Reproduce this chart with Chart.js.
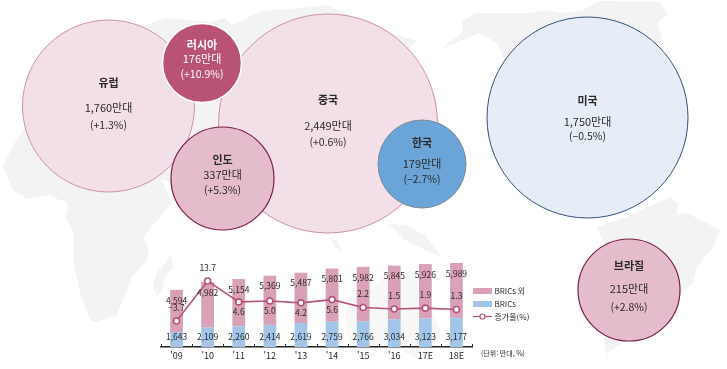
<!DOCTYPE html>
<html lang="ko">
<head>
<meta charset="utf-8">
<title>자동차 판매</title>
<script src="https://cdn.jsdelivr.net/npm/chart.js@4/dist/chart.umd.min.js"></script>
<style>
html,body{margin:0;padding:0;background:#fff;width:727px;height:369px;overflow:hidden}
#map,canvas{position:absolute;left:0;top:0;display:block}
</style>
</head>
<body>
<svg id="map" width="727" height="369" viewBox="0 0 727 369" aria-hidden="true">
<g fill="#f3f3f3">
<path d="M23 130 12 147 3 167 13 190 27 199 50 195 57 199 67 202 68 208 65 217 74 233 73 260 80 293 90 320 95 322 117 315 132 277 147 260 149 250 143 237 172 203 162 180 172 182 200 150 300 150 395 60 417 41 387 32 327 5 300 8 262 11 232 25 225 18 210 22 165 18 145 25 60 60Z"/>
<path d="M170 255 174 267 165 276 162 290 156 297 153 285 157 272 164 265Z"/>
<path d="M389 224 405 225 425 235 441 257 425 250 405 240Z"/>
<path d="M330 238 338 241 342 252 334 246Z"/>
<path fill="#f7f7f7" d="M347 300 355 290 375 288 385 275 395 285 410 270 420 280 440 330 432 350 420 360 400 350 385 345 365 350 350 345 345 320Z"/>
<path d="M441 49 463 32 462 22 475 13 530 13 547 10 563 13 583 10 600 1 660 2 668 15 657 23 662 38 640 60 560 90 503 57 497 43 480 33Z"/>
<path d="M597 227 627 217 670 197 678 203 677 215 687 213 720 230 713 247 697 267 693 283 680 293 627 340 607 353 608 367 604 340 612 260Z"/>
</g>
</svg>
<canvas id="bubbles" width="727" height="369"></canvas>
<canvas id="bars" width="727" height="369"></canvas>
<script>
// --- data ---
const regions = ['유럽', '중국', '미국', '러시아', '인도', '한국', '브라질'];
const regionSales = [1760, 2449, 1750, 176, 337, 179, 215];
const regionGrowth = [1.3, 0.6, -0.5, 10.9, 5.3, -2.7, 2.8];

const years = ["'09", "'10", "'11", "'12", "'13", "'14", "'15", "'16", "17E", "18E"];
const otherSales = [4594, 4982, 5154, 5369, 5487, 5801, 5982, 5845, 5926, 5989];
const bricsSales = [1643, 2109, 2260, 2414, 2619, 2759, 2766, 3034, 3123, 3177];
const growthRate = [-3.7, 13.7, 4.6, 5.0, 4.2, 5.6, 2.2, 1.5, 1.9, 1.3];

const seriesNames = ['BRICs 외', 'BRICs', '증가율(%)'];
const unitNote = '(단위: 만대, %)';

// --- layout & style (bubble placement on the page-sized scale) ---
const bubbleLayout = [
  {x:108.5,y:106,  r:86,   fill:'#f3dfe7',line:'#c993a9',w:1,  dy:[-23,2,19]},
  {x:328,  y:123.5,r:109.5,fill:'#f3dfe7',line:'#c993a9',w:1,  dy:[-23.5,2,19]},
  {x:587.5,y:117.5,r:100.5,fill:'#e6edf6',line:'#34507c',w:1,  dy:[-17,4,19]},
  {x:202,  y:63,   r:39.5, fill:'#b85276',line:'#ffffff',w:1.5,dy:[-18,-4,11],text:'#ffffff'},
  {x:222.5,y:178.5,r:51.5, fill:'#e5bccb',line:'#7a1e4a',w:1.2,dy:[-18.5,-3.5,11.5]},
  {x:422,  y:164,  r:44,   fill:'#6ba4d6',line:'#7d8a96',w:1,  dy:[-20.7,0,14.7]},
  {x:629,  y:290,  r:51,   fill:'#e5bccb',line:'#7a1e4a',w:1.2,dy:[-24,-1,17]}
];
const FONT = '"Noto Sans CJK KR","Noto Sans",sans-serif';
const INK = '#2b2b2b';
const COLOR_OTHER = '#d9a1b7', COLOR_BRICS = '#a3c6e8', COLOR_LINE = '#b5537a';
const RATE_BELOW = [false,false,true,true,true,true,false,false,false,false];

Chart.defaults.font.family = FONT;
Chart.defaults.animation = false;

const fmt = n => n.toLocaleString('en-US');
const signed = n => (n < 0 ? '−' : '+') + Math.abs(n).toFixed(1);

function put(ctx, text, x, y, font, color, align) {
  ctx.font = font;
  ctx.fillStyle = color || INK;
  ctx.textAlign = align || 'center';
  ctx.textBaseline = 'middle';
  ctx.fillText(text, x, y);
}

// --- bubbles ---
new Chart(document.getElementById('bubbles'), {
  type: 'bubble',
  data: {
    labels: regions,
    datasets: [{
      label: '판매량',
      data: bubbleLayout.map(b => ({x:b.x, y:b.y, r:b.r})),
      backgroundColor: bubbleLayout.map(b => b.fill),
      borderColor: bubbleLayout.map(b => b.line),
      borderWidth: bubbleLayout.map(b => b.w),
      hoverRadius: 0,
      clip: false
    }]
  },
  options: {
    responsive: false,
    layout: {padding: 0, autoPadding: false},
    plugins: {legend: {display: false}, tooltip: {enabled: false}},
    scales: {
      x: {type:'linear', display:false, min:0, max:727},
      y: {type:'linear', display:false, min:0, max:369, reverse:true}
    }
  },
  plugins: [{
    id: 'bubbleText',
    afterDatasetsDraw(chart) {
      const ctx = chart.ctx, sx = chart.scales.x, sy = chart.scales.y;
      ctx.save();
      bubbleLayout.forEach((b, i) => {
        const x = sx.getPixelForValue(b.x), y = sy.getPixelForValue(b.y);
        const c = b.text || INK;
        put(ctx, regions[i], x, y + b.dy[0], '600 11px ' + FONT, c);
        put(ctx, fmt(regionSales[i]) + '만대', x, y + b.dy[1], '400 11px ' + FONT, c);
        put(ctx, '(' + signed(regionGrowth[i]) + '%)', x, y + b.dy[2], '400 10.5px ' + FONT, c);
      });
      ctx.restore();
    }
  }]
});

// --- stacked bars + line ---
new Chart(document.getElementById('bars'), {
  type: 'bar',
  data: {
    labels: years,
    datasets: [
      {type:'line', label:seriesNames[2], data:growthRate, yAxisID:'y1', order:0,
       borderColor:COLOR_LINE, borderWidth:1.6, tension:0,
       pointRadius:3, pointBorderWidth:1.6, pointBackgroundColor:'#fff', pointBorderColor:COLOR_LINE},
      {label:seriesNames[1], data:bricsSales, backgroundColor:COLOR_BRICS, yAxisID:'y', order:1, stack:'s'},
      {label:seriesNames[0], data:otherSales, backgroundColor:COLOR_OTHER, yAxisID:'y', order:2, stack:'s'}
    ]
  },
  options: {
    responsive: false,
    layout: {padding: {left:161, right:255, top:255, bottom:0}},
    datasets: {bar: {categoryPercentage:0.41, barPercentage:1}},
    plugins: {legend: {display:false}, tooltip: {enabled:false}},
    scales: {
      x: {
        stacked: true,
        afterFit(s) { s.height = 22; },
        grid: {display:false, drawTicks:false},
        border: {display:true, color:'#222', width:1.4},
        ticks: {color:INK, font:{size:9, family:FONT}, padding:3, maxRotation:0, autoSkip:false}
      },
      y: {stacked:true, display:false, min:0, max:10040},
      y1: {display:false, min:-15, max:25}
    }
  },
  plugins: [{
    id: 'barExtras',
    afterDraw(chart) {
      const ctx = chart.ctx, sx = chart.scales.x, sy = chart.scales.y, sr = chart.scales.y1;
      const base = chart.chartArea.bottom;
      const step = sx.getPixelForValue(1) - sx.getPixelForValue(0);
      ctx.save();
      // upward ticks between categories
      ctx.strokeStyle = '#222'; ctx.lineWidth = 1;
      for (let i = 0; i <= years.length; i++) {
        const x = Math.round(sx.getPixelForValue(0) - step / 2 + i * step) + 0.5;
        ctx.beginPath(); ctx.moveTo(x, base); ctx.lineTo(x, base - 3); ctx.stroke();
      }
      // value labels
      const small = '400 8.5px ' + FONT;
      years.forEach((_, i) => {
        const x = sx.getPixelForValue(i);
        put(ctx, fmt(bricsSales[i]), x, base - 10.7, small);
        put(ctx, fmt(otherSales[i]), x, sy.getPixelForValue(bricsSales[i] + otherSales[i]) + 10.5, small);
        const p = sr.getPixelForValue(growthRate[i]);
        const txt = growthRate[i] < 0 ? '−' + Math.abs(growthRate[i]).toFixed(1) : growthRate[i].toFixed(1);
        put(ctx, txt, x, RATE_BELOW[i] ? p + 9.8 : p - 13.5, small);
      });
      // legend
      const lx = 473, tx = 494.5;
      ctx.fillStyle = COLOR_OTHER; ctx.fillRect(lx, 288, 19, 6);
      ctx.fillStyle = COLOR_BRICS; ctx.fillRect(lx, 301, 19, 6);
      ctx.strokeStyle = COLOR_LINE; ctx.lineWidth = 1.2;
      ctx.beginPath(); ctx.moveTo(lx, 316.5); ctx.lineTo(lx + 19, 316.5); ctx.stroke();
      ctx.beginPath(); ctx.arc(lx + 9.5, 316.5, 2.5, 0, Math.PI * 2);
      ctx.fillStyle = '#fff'; ctx.fill(); ctx.stroke();
      const lf = '400 8px ' + FONT;
      put(ctx, seriesNames[0], tx, 291, lf, INK, 'left');
      put(ctx, seriesNames[1], tx, 304, lf, INK, 'left');
      put(ctx, seriesNames[2], tx, 317, lf, INK, 'left');
      put(ctx, unitNote, 481, 353.7, '400 7px ' + FONT, INK, 'left');
      ctx.restore();
    }
  }]
});
</script>
</body>
</html>
